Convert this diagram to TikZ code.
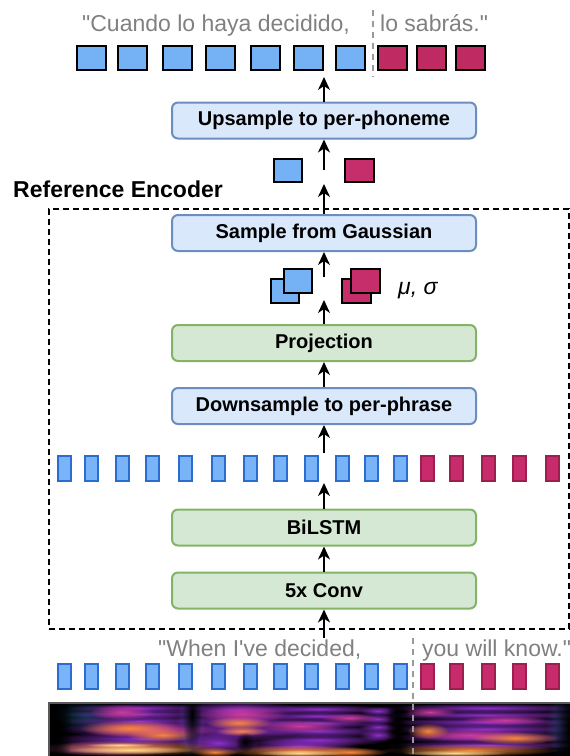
\documentclass[tikz,border=0pt]{standalone}
\usepackage{fontspec}
\setmainfont{Liberation Sans}
\usetikzlibrary{arrows.meta,fadings}

\definecolor{boxblue}{HTML}{DAE8FC}
\definecolor{edgeblue}{HTML}{6C8EBF}
\definecolor{boxgreen}{HTML}{D5E8D4}
\definecolor{edgegreen}{HTML}{82B366}
\definecolor{tokblue}{HTML}{75B1F5}
\definecolor{tokred}{HTML}{C02A62}
\definecolor{midred}{HTML}{C62D6B}
\definecolor{barblue}{HTML}{7AB4F8}
\definecolor{baredge}{HTML}{2A6DD0}
\definecolor{barred}{HTML}{C82B6B}
\definecolor{barrededge}{HTML}{9E1F4F}
\definecolor{txtgray}{HTML}{808080}
\definecolor{divgray}{HTML}{9A9A9A}
\definecolor{specteal}{HTML}{0C3346}
\definecolor{specpur}{HTML}{8E30CC}
\definecolor{specmag}{HTML}{CC3C9C}
\definecolor{specorg}{HTML}{F7873A}
\definecolor{specyel}{HTML}{FDDC8E}

% soft-edged radial mask for the spectrogram energy blobs
\tikzfading[name=soft, inner color=transparent!0, outer color=transparent!100]

\tikzset{
  stage/.style={rounded corners=6pt, line width=2pt, minimum width=304pt,
    minimum height=36pt, inner sep=0pt, font=\bfseries\fontsize{20}{24}\selectfont},
  bluestage/.style={stage, draw=edgeblue, fill=boxblue},
  greenstage/.style={stage, draw=edgegreen, fill=boxgreen},
  flow/.style={line width=2pt, -{Stealth[length=13pt,width=12pt,inset=4pt]}},
  tok/.style={draw=black, line width=2pt, inner sep=0pt, minimum width=29pt, minimum height=24pt},
  bar/.style={line width=2.4pt, inner sep=0pt, minimum width=12.6pt, minimum height=24.6pt},
  bluebar/.style={bar, draw=baredge, fill=barblue},
  redbar/.style={bar, draw=barrededge, fill=barred},
  graytext/.style={text=txtgray, inner sep=0pt, anchor=base west, font=\fontsize{23}{27}\selectfont},
  divider/.style={draw=divgray, line width=1.6pt, dash pattern=on 6pt off 5pt},
  encbox/.style={draw=black, line width=2pt, dash pattern=on 6pt off 4pt, inner sep=0pt},
  blob/.style={path fading=soft, fit fading=true}
}

\begin{document}
\begin{tikzpicture}[x=1pt,y=-1pt]
\useasboundingbox (0,0) rectangle (570,756);

% reference encoder frame and title
\node[encbox, minimum width=520pt, minimum height=420pt] (enc) at (309,419) {};
\node[inner sep=0pt, anchor=base west, font=\bfseries\fontsize{23}{27}\selectfont] (enctitle) at (13,197) {Reference Encoder};

% processing stages
\node[bluestage]  (up)     at (324,120.5) {Upsample to per-phoneme};
\node[bluestage]  (samp)   at (324,233)   {Sample from Gaussian};
\node[greenstage] (proj)   at (324,343)   {Projection};
\node[bluestage]  (down)   at (324,406)   {Downsample to per-phrase};
\node[greenstage] (bilstm) at (324,527.5) {BiLSTM};
\node[greenstage] (conv)   at (324,590.5) {5x Conv};

% output text and per-phoneme tokens
\node[graytext] (outA) at (82,31) {\textquotedbl Cuando lo haya decidido,};
\node[graytext] (outB) at (380,31) {lo sabrás.\textquotedbl};
\foreach \x [count=\i] in {91,132,177,220,265,308,350}
  \node[tok, fill=tokblue] (ob\i) at (\x,57.5) {};
\foreach \x [count=\i] in {392,431,470}
  \node[tok, fill=tokred] (or\i) at (\x,57.5) {};
\coordinate (topdivA) at (373,10);
\coordinate (topdivB) at (373,77);
\draw[divider] (topdivA) -- (topdivB);

% per-phrase samples
\node[tok, minimum width=28pt, minimum height=23pt, fill=tokblue] (phb) at (288,170.5) {};
\node[tok, minimum width=29pt, minimum height=23pt, fill=midred] (phr) at (359.5,170.5) {};

% mean and variance pairs (the upper-right square lies on top)
\node[tok, minimum width=28pt, fill=tokblue] (sgb) at (285,290.5) {};
\node[tok, minimum width=28pt, fill=tokblue] (mub) at (298,281) {};
\node[tok, fill=midred] (sgr) at (356.5,291) {};
\node[tok, fill=midred] (mur) at (365.5,281) {};
\node[inner sep=0pt, anchor=base west, font=\itshape\fontsize{23}{27}\selectfont] (musig) at (398,294) {μ, σ};

% frame-level features (encoder output and input)
\foreach \x [count=\i] in {64.5,91.5,122.5,152.5,185.5,218.5,250.5,280.5,311.5,342.5,371.5,400.5} {
  \node[bluebar] (hb\i) at (\x,468.5) {};
  \node[bluebar] (ib\i) at (\x,676.5) {};
}
\foreach \x [count=\i] in {427.5,456.5,488.5,519.5,552.5} {
  \node[redbar] (hr\i) at (\x,468.5) {};
  \node[redbar] (ir\i) at (\x,676.5) {};
}
\node[graytext] (inA) at (158,656) {\textquotedbl When I\textquotesingle ve decided,};
\node[graytext] (inB) at (422,656) {you will know.\textquotedbl};

% connectors
\coordinate (c1) at (324,77);
\coordinate (c2) at (324,170);
\coordinate (c3) at (324,184);
\coordinate (c4) at (324,277);
\coordinate (c5) at (324,300);
\coordinate (c6) at (324,453);
\coordinate (c7) at (324,483);
\coordinate (c8) at (324,638);
\draw[flow] (up.north) -- (c1);
\draw[flow] (c2) -- (up.south);
\draw[flow] (samp.north) -- (c3);
\draw[flow] (c4) -- (samp.south);
\draw[flow] (proj.north) -- (c5);
\draw[flow] (down.north) -- (proj.south);
\draw[flow] (c6) -- (down.south);
\draw[flow] (bilstm.north) -- (c7);
\draw[flow] (conv.north) -- (bilstm.south);
\draw[flow] (c8) -- (conv.south);

% mel spectrogram
\node[inner sep=0pt, minimum width=521pt, minimum height=53pt, fill=black] (spec) at (309.5,729.5) {};
\begin{scope}
  \clip (49,703) rectangle (570,756);
  % faint low-energy haze
  \foreach \x/\y/\a/\b in {85/716/24/10, 190/728/10/20, 560/725/10/20}
    \fill[specteal, blob] (\x,\y) ellipse ({1.5*\a pt} and {1.6*\b pt});
  % harmonic streaks
  \foreach \x/\y/\a/\b in {140/708/50/3, 140/714/52/3, 140/721/52/4, 238/710/44/6, 238/721/44/6,
      238/731/42/6, 318/709/50/3, 318/716/50/3, 318/723/50/3, 318/731/50/4, 318/740/48/4,
      378/711/13/3, 378/719/13/3, 378/727/13/3, 378/735/13/4, 486/708/76/3, 486/715/76/3,
      486/722/74/3, 486/729/72/4, 486/737/70/4, 486/745/68/3, 140/729/56/5, 140/739/60/5,
      218/743/28/7, 300/746/40/5, 110/748/50/5}
    \fill[specpur, blob] (\x,\y) ellipse ({1.5*\a pt} and {1.6*\b pt});
  \foreach \x/\y/\a/\b in {122/712/22/5, 242/714/30/6, 150/730/45/5, 300/726/30/4,
      470/735/40/4, 430/712/18/3, 505/720/30/3, 350/718/20/3}
    \fill[specmag, blob] (\x,\y) ellipse ({1.5*\a pt} and {1.6*\b pt});
  % strong formant energy
  \foreach \x/\y/\a/\b in {130/728/34/5, 162/735/24/4, 239/723/22/4, 242/731/18/3,
      428/731/14/5, 515/738/30/4, 130/748/62/5, 300/751/52/4, 470/750/60/4,
      215/752/16/3, 350/752/26/3}
    \fill[specorg, blob] (\x,\y) ellipse ({1.5*\a pt} and {1.6*\b pt});
  \foreach \x/\y/\a/\b in {130/750/44/2.5, 300/753/30/2, 455/753/36/2, 120/745/24/1.6}
    \fill[specyel, blob] (\x,\y) ellipse ({1.5*\a pt} and {1.6*\b pt});
  % silent gaps
  \fill[black, blob] (398,728) ellipse (12pt and 60pt);
  \fill[black, blob] (192,715) ellipse (10pt and 36pt);
  \fill[black, blob] (245,742) ellipse (10pt and 10pt);
  \fill[black, blob] (56,728) ellipse (16pt and 60pt);
  \fill[black, blob] (570,728) ellipse (16pt and 60pt);
\end{scope}
\coordinate (specTL) at (49,703);
\coordinate (specTR) at (570,703);
\coordinate (specBL) at (49,756);
\draw[draw=black!65, line width=1.2pt] (specBL) -- (specTL) -- (specTR);
\coordinate (botdivA) at (413,638);
\coordinate (botdivB) at (413,756);
\draw[divider] (botdivA) -- (botdivB);
\end{tikzpicture}
\end{document}
